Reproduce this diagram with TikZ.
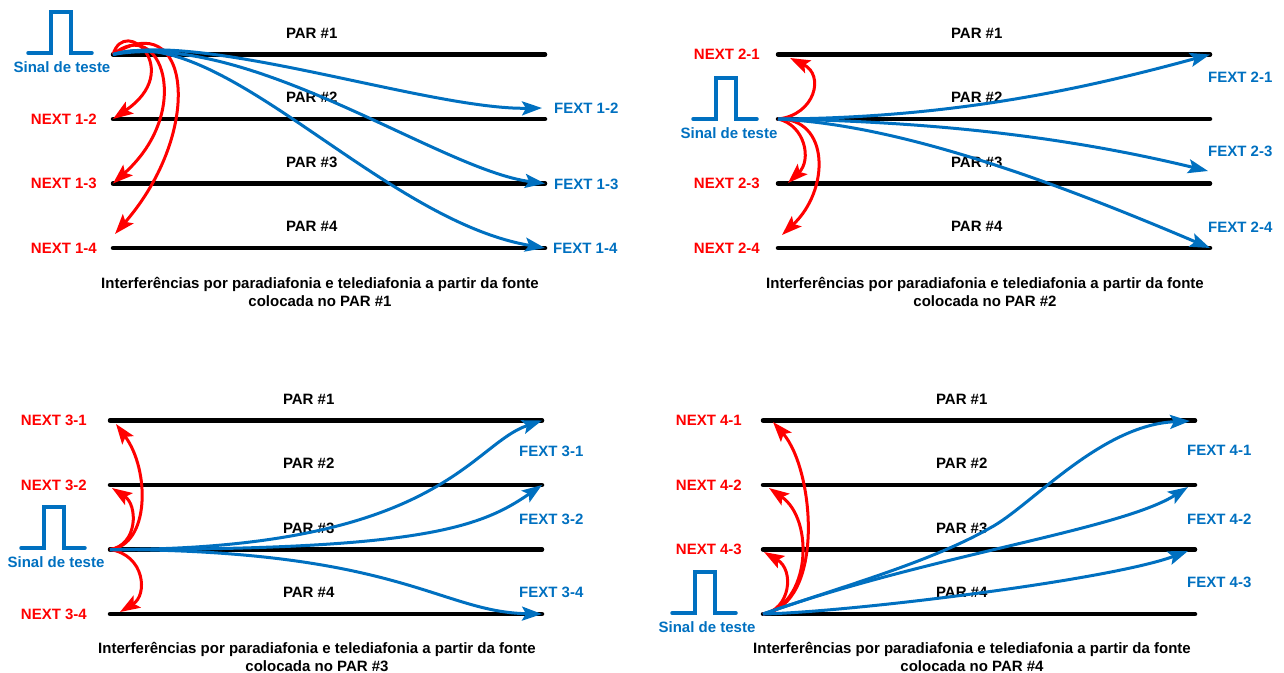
\documentclass[tikz,border=0pt]{standalone}
\usepackage{fontspec}
\setmainfont{Liberation Sans}
\usetikzlibrary{arrows.meta,positioning}
\definecolor{sigblue}{RGB}{0,112,192}
\definecolor{nextred}{RGB}{255,0,0}

\begin{document}
\begin{tikzpicture}[x=1pt,y=-1pt,>={Stealth[length=20pt,width=14pt,inset=4pt]},
  every node/.style={font=\fontsize{15}{17.5}\selectfont\bfseries,inner sep=0pt},
  pair/.style={line width=4.5pt,line cap=round},
  pulse/.style={sigblue,line width=3.5pt,line cap=round},
  next/.style={nextred,line width=3pt,->},
  fext/.style={sigblue,line width=3pt,->},
  nextlbl/.style={text=nextred},
  fextlbl/.style={text=sigblue,anchor=west},
  sinal/.style={text=sigblue},
  legenda/.style={align=center}]
\useasboundingbox (0,0) rectangle (1284,672);

% the four pairs of each panel
\foreach \p/\x/\y in {a/113/54.5, b/778/54.5, c/110/420.5, d/763/420.5} {
  \foreach \i in {1,...,4} {
    \coordinate (\p L\i) at (\x,\y+64.5*\i-64.5);
    \coordinate (\p R\i) at (\x+432,\y+64.5*\i-64.5);
    \draw[pair] (\p L\i) -- node[pos=.46,yshift=21.5pt] (\p P\i) {PAR \#\i} (\p R\i);
  }
}

% test pulses
\foreach \x/\y in {28/53, 693/119, 21/548, 672/613}
  \draw[pulse] (\x,\y) -- ++(23,0) -- ++(0,-41) -- ++(20,0) -- ++(0,41) -- ++(21,0);
\node[sinal] (aS) at (62,67) {Sinal de teste};
\node[sinal] (bS) at (729,133) {Sinal de teste};
\node[sinal] (cS) at (56,562) {Sinal de teste};
\node[sinal] (dS) at (707,627) {Sinal de teste};

% NEXT labels
\node[nextlbl,left=16pt of aL2] (aN2) {NEXT 1-2};
\node[nextlbl,left=16pt of aL3] (aN3) {NEXT 1-3};
\node[nextlbl,left=16pt of aL4] (aN4) {NEXT 1-4};
\node[nextlbl,left=18pt of bL1] (bN1) {NEXT 2-1};
\node[nextlbl,left=18pt of bL3] (bN3) {NEXT 2-3};
\node[nextlbl,left=18pt of bL4] (bN4) {NEXT 2-4};
\node[nextlbl,left=23pt of cL1] (cN1) {NEXT 3-1};
\node[nextlbl,left=23pt of cL2] (cN2) {NEXT 3-2};
\node[nextlbl,left=23pt of cL4] (cN4) {NEXT 3-4};
\node[nextlbl,left=21pt of dL1] (dN1) {NEXT 4-1};
\node[nextlbl,left=21pt of dL2] (dN2) {NEXT 4-2};
\node[nextlbl,left=21pt of dL3] (dN3) {NEXT 4-3};

% FEXT labels
\node[fextlbl] (aF2) at (554,108) {FEXT 1-2};
\node[fextlbl] (aF3) at (554,184) {FEXT 1-3};
\node[fextlbl] (aF4) at (553,248) {FEXT 1-4};
\node[fextlbl] (bF1) at (1208,77) {FEXT 2-1};
\node[fextlbl] (bF3) at (1208,151) {FEXT 2-3};
\node[fextlbl] (bF4) at (1208,227) {FEXT 2-4};
\node[fextlbl] (cF1) at (519,451) {FEXT 3-1};
\node[fextlbl] (cF2) at (519,519) {FEXT 3-2};
\node[fextlbl] (cF4) at (519,592) {FEXT 3-4};
\node[fextlbl] (dF1) at (1187,450) {FEXT 4-1};
\node[fextlbl] (dF2) at (1187,519) {FEXT 4-2};
\node[fextlbl] (dF3) at (1187,582) {FEXT 4-3};

% captions
\node[legenda] (aC) at (320,292) {Interferências por paradiafonia e telediafonia a partir da fonte\\colocada no PAR \#1};
\node[legenda] (bC) at (985,292) {Interferências por paradiafonia e telediafonia a partir da fonte\\colocada no PAR \#2};
\node[legenda] (cC) at (317,657) {Interferências por paradiafonia e telediafonia a partir da fonte\\colocada no PAR \#3};
\node[legenda] (dC) at (972,657) {Interferências por paradiafonia e telediafonia a partir da fonte\\colocada no PAR \#4};

% arrow ends off the pairs
\coordinate (aT4) at (115,234);
\coordinate (aU2) at (542,108);
\coordinate (bT1) at (790,58);
\coordinate (bT3) at (788,183);
\coordinate (bT4) at (782,235);
\coordinate (bU3) at (1208,171);
\coordinate (cT1) at (116,424);
\coordinate (cT2) at (112,488);
\coordinate (cT4) at (120,612);
\coordinate (dT1) at (773,422);
\coordinate (dT2) at (769,488);
\coordinate (dT3) at (764,552);
\coordinate (dU1) at (1190,421);
\coordinate (dU2) at (1188,487);
\coordinate (dU3) at (1188,551);

% source on PAR #1
\draw[next] (aL1) .. controls (125,15) and (185,70) .. (aL2);
\draw[next] (aL1) .. controls (160,15) and (195,110) .. (aL3);
\draw[next] (aL1) .. controls (190,5) and (205,130) .. (aT4);
\draw[fext] (aL1) .. controls (200,30) and (430,110) .. (aU2);
\draw[fext] (aL1) .. controls (250,30) and (440,170) .. (aR3);
\draw[fext] (aL1) .. controls (220,20) and (380,220) .. (aR4);

% source on PAR #2
\draw[next] (bL2) .. controls (815,115) and (825,75) .. (bT1);
\draw[next] (bL2) .. controls (805,125) and (812,160) .. (bT3);
\draw[next] (bL2) .. controls (830,118) and (830,190) .. (bT4);
\draw[fext] (bL2) .. controls (950,118) and (1080,90) .. (bR1);
\draw[fext] (bL2) .. controls (950,122) and (1080,140) .. (bU3);
\draw[fext] (bL2) .. controls (900,125) and (1050,180) .. (bR4);

% source on PAR #3
\draw[next] (cL3) .. controls (150,545) and (150,470) .. (cT1);
\draw[next] (cL3) .. controls (138,545) and (138,505) .. (cT2);
\draw[next] (cL3) .. controls (145,555) and (148,595) .. (cT4);
\draw[fext] (cL3) .. controls (440,550) and (470,445) .. (cR1);
\draw[fext] (cL3) .. controls (420,550) and (480,528) .. (cR2);
\draw[fext] (cL3) .. controls (400,550) and (440,612) .. (cR4);

% source on PAR #4
\draw[next] (dL4) .. controls (825,605) and (815,470) .. (dT1);
\draw[next] (dL4) .. controls (810,605) and (815,520) .. (dT2);
\draw[next] (dL4) .. controls (790,610) and (795,570) .. (dT3);
\draw[fext] (dL4) .. controls (850,584) and (930,562) .. (990,528)
  .. controls (1030,507) and (1100,425) .. (dU1);
\draw[fext] (dL4) .. controls (930,555) and (1120,530) .. (dU2);
\draw[fext] (dL4) .. controls (850,612) and (1110,580) .. (dU3);
\end{tikzpicture}
\end{document}
